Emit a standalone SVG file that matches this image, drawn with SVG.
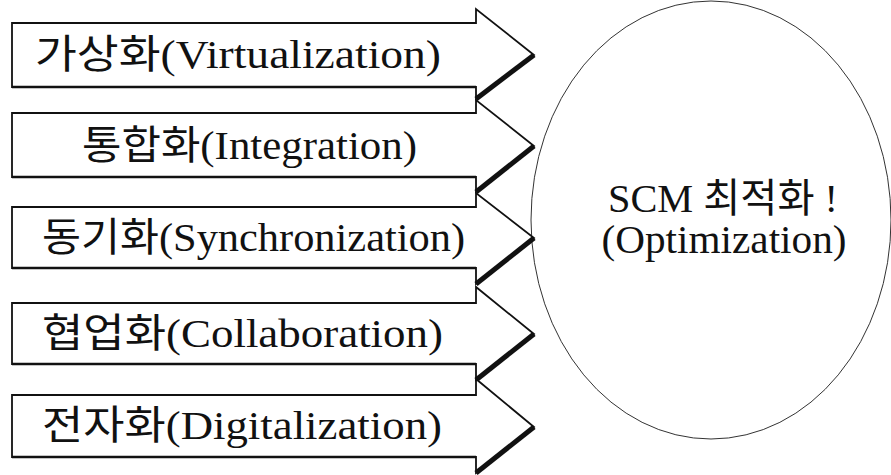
<svg xmlns="http://www.w3.org/2000/svg" width="891" height="475" viewBox="0 0 891 475">
<style>
  .body { fill: #fff; stroke: #111; stroke-width: 1.8; stroke-linejoin: miter; }
  .shadow { fill: none; stroke: #111; stroke-width: 5; stroke-linecap: butt; }
  .base { fill: none; stroke: #111; stroke-width: 2.6; }
  .lbl { font-family: "Liberation Serif", "Noto Sans CJK KR", serif; font-size: 40px; fill: #111; }
  .oval { fill: #fff; stroke: #333; stroke-width: 1; }
  .ctr { font-family: "Liberation Serif", "Noto Sans CJK KR", serif; font-size: 40px; fill: #111; text-anchor: middle; }
</style>
<rect width="891" height="475" fill="#fff"/>
<g id="optimization">
  <ellipse class="oval" cx="711" cy="220" rx="180" ry="219"/>
  <text class="ctr" x="723" y="212" textLength="230" lengthAdjust="spacingAndGlyphs">SCM 최적화 !</text>
  <text class="ctr" x="724" y="253" textLength="245" lengthAdjust="spacingAndGlyphs">(Optimization)</text>
</g>
<g id="virtualization">
  <path class="body" d="M12,23 H476 V9 L534,55 L476,99 V87 H12 Z"/>
  <line class="shadow" x1="534" y1="55" x2="476" y2="99"/>
  <line class="base" x1="12" y1="87" x2="476" y2="87"/>
  <text class="lbl" x="35" y="68" textLength="406" lengthAdjust="spacingAndGlyphs">가상화(Virtualization)</text>
</g>
<g id="integration">
  <path class="body" d="M12,113 H476 V100 L534,146 L476,192 V177 H12 Z"/>
  <line class="shadow" x1="534" y1="146" x2="476" y2="192"/>
  <line class="base" x1="12" y1="177" x2="476" y2="177"/>
  <text class="lbl" x="82" y="159" textLength="335" lengthAdjust="spacingAndGlyphs">통합화(Integration)</text>
</g>
<g id="synchronization">
  <path class="body" d="M12,207 H476 V193 L534,238 L476,284 V268 H12 Z"/>
  <line class="shadow" x1="534" y1="238" x2="476" y2="284"/>
  <line class="base" x1="12" y1="268" x2="476" y2="268"/>
  <text class="lbl" x="42" y="251" textLength="423" lengthAdjust="spacingAndGlyphs">동기화(Synchronization)</text>
</g>
<g id="collaboration">
  <path class="body" d="M12,303 H476 V287 L534,334 L476,380 V364 H12 Z"/>
  <line class="shadow" x1="534" y1="334" x2="476" y2="380"/>
  <line class="base" x1="12" y1="364" x2="476" y2="364"/>
  <text class="lbl" x="42" y="347" textLength="401" lengthAdjust="spacingAndGlyphs">협업화(Collaboration)</text>
</g>
<g id="digitalization">
  <path class="body" d="M12,395 H476 V379 L534,427 L476,473 V457 H12 Z"/>
  <line class="shadow" x1="534" y1="427" x2="476" y2="473"/>
  <line class="base" x1="12" y1="457" x2="476" y2="457"/>
  <text class="lbl" x="42" y="439" textLength="400" lengthAdjust="spacingAndGlyphs">전자화(Digitalization)</text>
</g>
</svg>
